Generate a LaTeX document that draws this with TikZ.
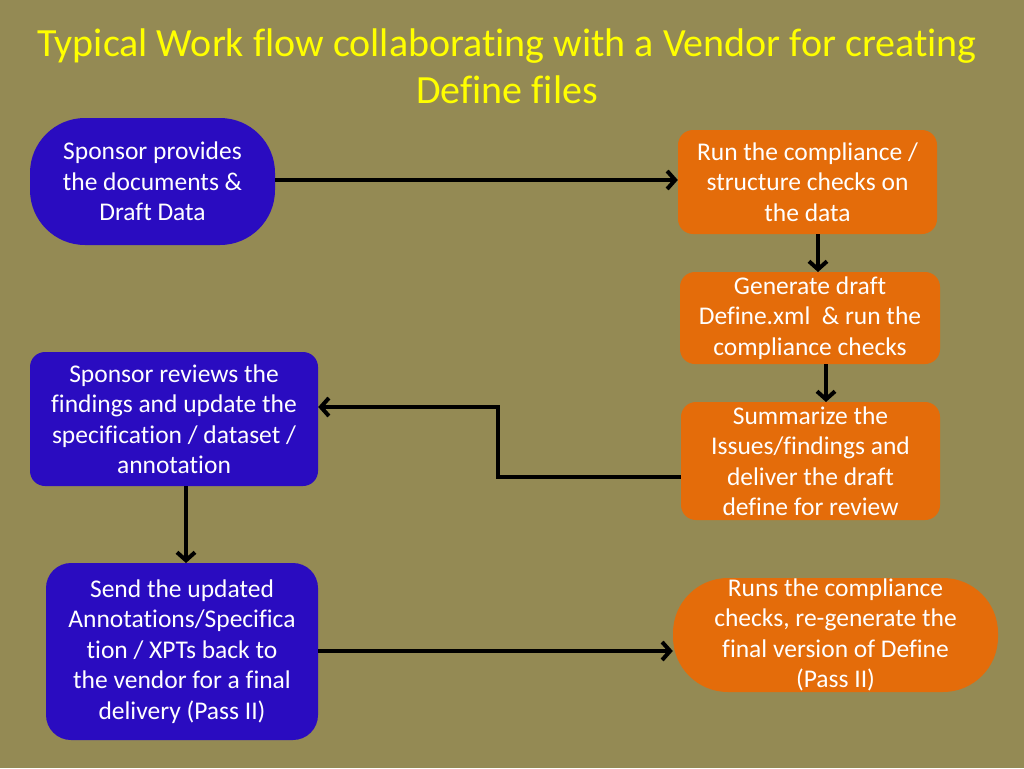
\documentclass[tikz,border=0pt]{standalone}
\usepackage{fontspec}
\setmainfont{Carlito}[Ligatures=NoCommon]
\usetikzlibrary{arrows.meta}
\definecolor{olivebg}{HTML}{948A54}
\definecolor{sponsorblue}{HTML}{2A0CC0}
\definecolor{vendororange}{HTML}{E46C0A}
\definecolor{titleyellow}{HTML}{FFFF00}
\begin{document}
\begin{tikzpicture}[x=1pt, y=-1pt,
		box/.style = {rectangle, text=white, align=center, inner sep=0pt,
			font=\fontsize{25.5}{30.5}\selectfont},
		sponsor/.style = {box, fill=sponsorblue},
		vendor/.style = {box, fill=vendororange},
		flow/.style = {line width=4pt, -{Straight Barb[length=8pt, width=18pt, line width=4pt]}}]
		\fill[olivebg] (0,0) rectangle (1024,768);
		\node[text=titleyellow, align=center, font=\fontsize{40}{47}\selectfont] (title) at (507,66)
			{Typical Work flow collaborating with a Vendor for creating\\Define files};
		% sponsor side
		\node[sponsor, minimum width=245, minimum height=127, rounded corners=55] (provide) at (152.5,181.5)
			{Sponsor provides\\the documents \&\\Draft Data};
		\node[sponsor, minimum width=288, minimum height=134, rounded corners=15] (review) at (174,419)
			{Sponsor reviews the\\findings and update the\\specification / dataset /\\annotation};
		\node[sponsor, minimum width=272, minimum height=177, rounded corners=25] (send) at (182,651.5)
			{Send the updated\\Annotations/Specifica\\tion / XPTs back to\\the vendor for a final\\delivery (Pass II)};
		% vendor side
		\node[vendor, minimum width=259, minimum height=104, rounded corners=15] (checks) at (807.5,182)
			{Run the compliance /\\structure checks on\\the data};
		\node[vendor, minimum width=260, minimum height=92, rounded corners=15] (draft) at (810,318)
			{Generate draft\\Define.xml\ \ \& run the\\compliance checks};
		\node[vendor, minimum width=259, minimum height=118, rounded corners=15] (summary) at (810.5,461)
			{Summarize the\\Issues/findings and\\deliver the draft\\define for review};
		\node[vendor, minimum width=325, minimum height=114, rounded corners=55] (final) at (835.5,635)
			{Runs the compliance\\checks, re-generate the\\final version of Define\\(Pass II)};
		% connectors
		\draw[flow] (provide.east |- 0,180) -- (checks.west |- 0,180);
		\draw[flow] (818,234) -- (818,272);
		\draw[flow] (826,364) -- (826,402);
		\draw[flow] (summary.west |- 0,477) -- (498,477) -- (498,407) -- (review.east |- 0,407);
		\draw[flow] (186,486) -- (186,563);
		\draw[flow] (send.east |- 0,651) -- (final.west |- 0,651);
	\end{tikzpicture}
\end{document}
